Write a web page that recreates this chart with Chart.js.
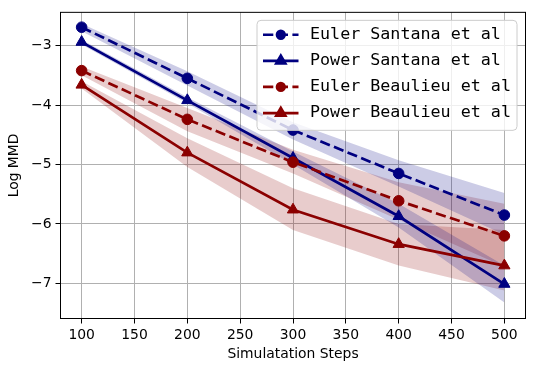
<!DOCTYPE html>
<html lang="en">
<head>
<meta charset="UTF-8">
<title>Log MMD vs Simulation Steps</title>
<script src="https://cdn.jsdelivr.net/npm/chart.js"></script>
<style>
  html, body { margin: 0; padding: 0; background: #fff; }
  #wrap { width: 534px; height: 371px; }
</style>
</head>
<body>
<div id="wrap"><canvas id="mmdChart" width="534" height="371"></canvas></div>
<script>
// data
const steps = [100, 200, 300, 400, 500];
const xTicks = [100, 150, 200, 250, 300, 350, 400, 450, 500];
const yTicks = [-7, -6, -5, -4, -3];
const seriesNames = ['Euler Santana et al', 'Power Santana et al', 'Euler Beaulieu et al', 'Power Beaulieu et al'];

const eulerSantana    = [-2.69, -3.55, -4.42, -5.15, -5.85];
const eulerSantanaHi  = [-2.63, -3.43, -4.29, -4.93, -5.48];
const eulerSantanaLo  = [-2.76, -3.67, -4.58, -5.37, -6.18];
const powerSantana    = [-2.94, -3.92, -4.89, -5.87, -7.01];
const powerSantanaHi  = [-2.90, -3.87, -4.78, -5.66, -6.70];
const powerSantanaLo  = [-2.98, -3.97, -5.00, -6.06, -7.32];
const eulerBeaulieu   = [-3.42, -4.24, -4.96, -5.61, -6.20];
const eulerBeaulieuHi = [-3.35, -4.05, -4.75, -5.30, -5.66];
const eulerBeaulieuLo = [-3.50, -4.44, -5.15, -5.93, -6.72];
const powerBeaulieu   = [-3.66, -4.80, -5.76, -6.34, -6.70];
const powerBeaulieuHi = [-3.60, -4.56, -5.40, -6.00, -6.10];
const powerBeaulieuLo = [-3.72, -5.04, -6.10, -6.70, -7.12];

const means = [eulerSantana, powerSantana, eulerBeaulieu, powerBeaulieu];
const uppers = [eulerSantanaHi, powerSantanaHi, eulerBeaulieuHi, powerBeaulieuHi];
const lowers = [eulerSantanaLo, powerSantanaLo, eulerBeaulieuLo, powerBeaulieuLo];

// styles
const NAVY = '#000080', DARKRED = '#8b0000';
const styles = [
  { color: NAVY,    band: 'rgba(0,0,128,0.2)', dash: [10.3, 4.4], marker: 'circle',   r: 5.3, lr: 3.8 },
  { color: NAVY,    band: 'rgba(0,0,128,0.2)', dash: [],          marker: 'triangle', r: 6.5, lr: 5.2 },
  { color: DARKRED, band: 'rgba(139,0,0,0.2)', dash: [10.3, 4.4], marker: 'circle',   r: 5.3, lr: 3.8 },
  { color: DARKRED, band: 'rgba(139,0,0,0.2)', dash: [],          marker: 'triangle', r: 6.5, lr: 5.2 }
];

function pts(vals) { return steps.map((s, i) => ({ x: s, y: vals[i] })); }
function minusFmt(v) { return v < 0 ? '\u2212' + Math.abs(v) : String(v); }

const datasets = [];
// shaded bands first (upper, then lower filled to upper)
means.forEach((m, k) => {
  datasets.push({ label: '_hi' + k, data: pts(uppers[k]), borderWidth: 0, pointRadius: 0, fill: false, order: 20 + k });
  datasets.push({ label: '_lo' + k, data: pts(lowers[k]), borderWidth: 0, pointRadius: 0,
                  fill: '-1', backgroundColor: styles[k].band, order: 20 + k });
});
// mean lines with markers
means.forEach((m, k) => {
  const st = styles[k];
  datasets.push({
    label: seriesNames[k],
    data: pts(m),
    borderColor: st.color,
    backgroundColor: st.color,
    borderWidth: 2.7,
    borderDash: st.dash,
    pointStyle: st.marker,
    pointRadius: st.r,
    pointBorderWidth: 1,
    pointBorderColor: st.color,
    pointBackgroundColor: st.color,
    fill: false,
    tension: 0,
    order: 4 - k
  });
});

// black frame round the plot area + matplotlib style legend
const framePlugin = {
  id: 'frame',
  afterDatasetsDraw(chart) {
    const { ctx, chartArea: a } = chart;
    ctx.save();
    ctx.strokeStyle = '#000';
    ctx.lineWidth = 1;
    ctx.strokeRect(a.left, a.top, a.right - a.left, a.bottom - a.top);
    ctx.restore();
  }
};

const legendPlugin = {
  id: 'mplLegend',
  afterDraw(chart) {
    const { ctx, chartArea: a } = chart;
    const w = 260, h = 110;
    const left = a.right - 8.5 - w, top = a.top + 8;
    ctx.save();
    ctx.beginPath();
    ctx.roundRect(left, top, w, h, 4);
    ctx.fillStyle = 'rgba(255,255,255,0.8)';
    ctx.fill();
    ctx.strokeStyle = '#cccccc';
    ctx.lineWidth = 1;
    ctx.stroke();
    ctx.font = '16.7px "DejaVu Sans Mono"';
    ctx.textBaseline = 'middle';
    ctx.textAlign = 'left';
    seriesNames.forEach((name, k) => {
      const st = styles[k];
      const y = top + 14.4 + k * 26.1;
      ctx.strokeStyle = st.color;
      ctx.lineWidth = 2.7;
      ctx.setLineDash(st.dash);
      ctx.beginPath();
      ctx.moveTo(left + 6, y);
      ctx.lineTo(left + 41.5, y);
      ctx.stroke();
      ctx.setLineDash([]);
      Chart.helpers.drawPoint(ctx, { pointStyle: st.marker, radius: st.lr, rotation: 0, borderWidth: 1 }, left + 23.8, y);
      ctx.fillStyle = st.color;
      ctx.fill();
      ctx.fillStyle = '#000';
      ctx.fillText(name, left + 53, y);
    });
    ctx.restore();
  }
};

const tickFont = { family: 'DejaVu Sans', size: 13.9 };

new Chart(document.getElementById('mmdChart').getContext('2d'), {
  type: 'line',
  data: { datasets: datasets },
  options: {
    responsive: false,
    animation: false,
    layout: { padding: { top: 10.5, right: 8.5, left: 0, bottom: 0 } },
    plugins: { legend: { display: false }, tooltip: { enabled: false } },
    scales: {
      x: {
        type: 'linear',
        min: 80, max: 520,
        afterBuildTicks: s => { s.ticks = xTicks.map(v => ({ value: v })); },
        afterFit: s => { s.height = 52.5; },
        grid: { color: '#b0b0b0', lineWidth: 1, tickColor: '#000', tickLength: 5 },
        border: { color: '#000' },
        ticks: { color: '#000', font: tickFont, padding: 4, maxRotation: 0, callback: v => minusFmt(v) },
        title: { display: true, text: 'Simulatation Steps', color: '#000', font: tickFont, padding: { top: 0, bottom: 8.7 } }
      },
      y: {
        min: -7.59, max: -2.44,
        afterBuildTicks: s => { s.ticks = yTicks.map(v => ({ value: v })); },
        afterFit: s => { s.width = 60.5; },
        grid: { color: '#b0b0b0', lineWidth: 1, tickColor: '#000', tickLength: 5 },
        border: { color: '#000' },
        ticks: { color: '#000', font: tickFont, padding: 4, callback: v => minusFmt(v) },
        title: { display: true, text: 'Log MMD', color: '#000', font: tickFont, padding: { top: 6.5, bottom: 0 } }
      }
    }
  },
  plugins: [framePlugin, legendPlugin]
});
</script>
</body>
</html>
